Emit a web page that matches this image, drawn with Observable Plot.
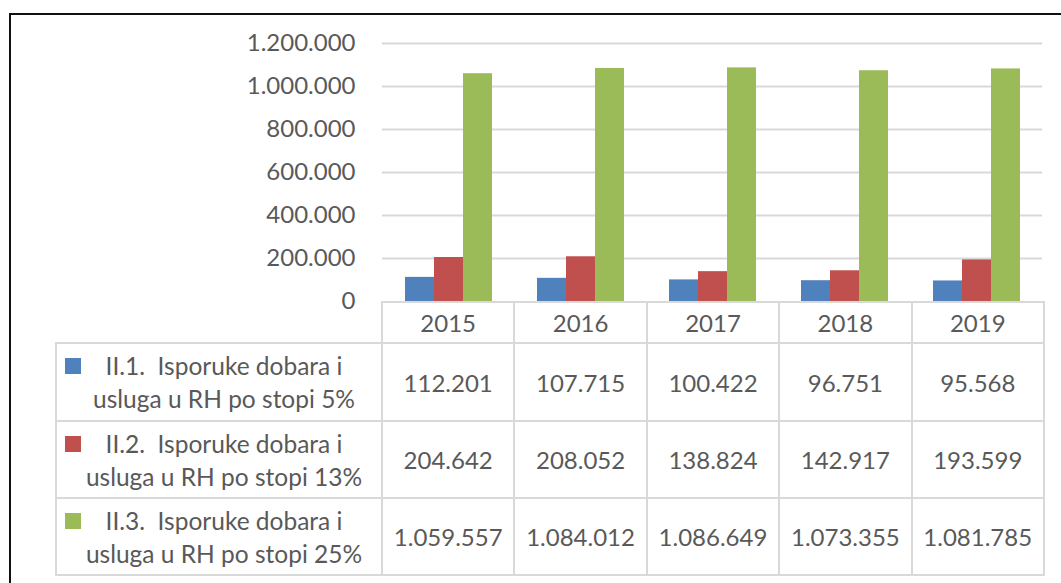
<!DOCTYPE html>
<html>
<head>
<meta charset="utf-8">
<script src="https://cdn.jsdelivr.net/npm/d3@7"></script>
<script src="https://cdn.jsdelivr.net/npm/@observablehq/plot@0.6"></script>
<style>
  html, body { margin: 0; padding: 0; background: #fff; }
  #wrap { position: relative; width: 1061px; height: 583px; overflow: hidden; font-family: Lato, "Open Sans", sans-serif; color: #595959; }
  #chart { position: absolute; left: 0; top: 0; }
  #frame { position: absolute; left: 9px; top: 13px; width: 1100px; height: 600px; border-left: 2px solid #111; border-top: 2px solid #111; pointer-events: none; }
  #tbl { position: absolute; left: 55px; top: 301px; border-collapse: collapse; table-layout: fixed; font-size: 24px; color: #595959; }
  #tbl td { border: 2px solid #d9d9d9; text-align: center; vertical-align: middle; padding: 0; white-space: nowrap; }
  #tbl td.blank { border-top: none; border-left: none; }
  #tbl tr.head td { height: 39px; }
  #tbl td.leg { position: relative; line-height: 33px; padding-left: 26px; padding-right: 16px; font-size: 24.5px; }
  #tbl td.leg .key { position: absolute; left: 8px; top: 14px; width: 16px; height: 16px; }
</style>
</head>
<body>
<div id="wrap">
  <div id="chart"></div>
  <table id="tbl"></table>
  <div id="frame"></div>
</div>
<script>
const years = ["2015", "2016", "2017", "2018", "2019"];
const seriesNames = [
  "II.1.  Isporuke dobara i usluga u RH po stopi 5%",
  "II.2.  Isporuke dobara i usluga u RH po stopi 13%",
  "II.3.  Isporuke dobara i usluga u RH po stopi 25%"
];
const rate5 = [112201, 107715, 100422, 96751, 95568];
const rate13 = [204642, 208052, 138824, 142917, 193599];
const rate25 = [1059557, 1084012, 1086649, 1073355, 1081785];
const seriesColors = ["#4f81bd", "#c0504d", "#9bbb59"];
const yTicks = [0, 200000, 400000, 600000, 800000, 1000000, 1200000];

const allValues = [rate5, rate13, rate25];
const fmt = d3.formatLocale({decimal: ",", thousands: ".", grouping: [3], currency: ["", ""]}).format(",d");

const data = [];
years.forEach((yr, i) => {
  seriesNames.forEach((s, j) => data.push({year: yr, series: s, value: allValues[j][i]}));
});

const chart = Plot.plot({
  width: 1061,
  height: 303,
  marginLeft: 381,
  marginRight: 18,
  marginTop: 43,
  marginBottom: 2,
  style: {background: "transparent", fontSize: "24px", fontFamily: "Lato, 'Open Sans', sans-serif", color: "#595959", overflow: "visible"},
  fx: {domain: years, padding: 0, axis: null, label: null},
  x: {domain: seriesNames, paddingInner: 0, paddingOuter: 0.75, axis: null},
  y: {domain: [0, 1200000], ticks: yTicks, tickFormat: fmt, tickSize: 0, tickPadding: 27, label: null},
  color: {domain: seriesNames, range: seriesColors},
  marks: [
    Plot.ruleY(yTicks.slice(1), {stroke: "#d9d9d9", strokeWidth: 2}),
    Plot.barY(data, {fx: "year", x: "series", y: "value", fill: "series", inset: 0})
  ]
});
document.getElementById("chart").appendChild(chart);

// data table below the chart
const tbl = document.getElementById("tbl");
let html = '<colgroup><col style="width:326px">' + years.map(() => '<col style="width:132.4px">').join("") + '</colgroup>';
html += '<tr class="head"><td class="blank"></td>' + years.map(y => `<td>${y}</td>`).join("") + '</tr>';
const rowHeights = [78, 77, 77];
seriesNames.forEach((s, j) => {
  const label = s.replace("  ", " &nbsp;").replace(" usluga", "<br>usluga");
  html += `<tr><td class="leg" style="height:${rowHeights[j] - 2}px"><span class="key" style="background:${seriesColors[j]}"></span>${label}</td>` +
    allValues[j].map(v => `<td>${fmt(v)}</td>`).join("") + '</tr>';
});
tbl.innerHTML = html;
</script>
</body>
</html>
